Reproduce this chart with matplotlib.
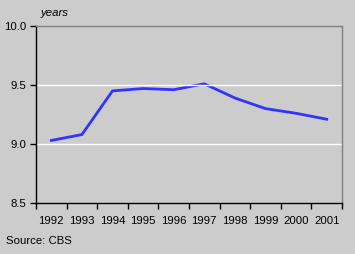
import matplotlib
matplotlib.use('Agg')
import matplotlib.pyplot as plt

years = ['1992', '1993', '1994', '1995', '1996', '1997', '1998', '1999', '2000', '2001']
values = [9.03, 9.08, 9.45, 9.47, 9.46, 9.51, 9.39, 9.30, 9.26, 9.21]

plt.rcParams['font.family'] = ['Liberation Sans', 'DejaVu Sans']
fs = 8.2

fig = plt.figure(figsize=(3.55, 2.54), dpi=100, facecolor='#cccccc')
ax = fig.add_axes([36 / 355, 1 - 203 / 254, 306 / 355, 177 / 254])
ax.set_facecolor('#cccccc')

x = [i + 0.5 for i in range(len(years))]
ax.plot(x, values, color='#3333ff', linewidth=2, solid_joinstyle='miter')

ax.set_xlim(0, len(years))
ax.set_ylim(8.5, 10.0)
ax.set_yticks([8.5, 9.0, 9.5, 10.0])
ax.set_yticklabels(['8.5', '9.0', '9.5', '10.0'])
ax.set_xticks(range(len(years) + 1))
ax.set_xticklabels([])
ax.set_xticks(x, minor=True)
ax.set_xticklabels(years, minor=True)
ax.tick_params(axis='x', which='minor', length=0, pad=9, labelsize=fs)
ax.tick_params(axis='x', which='major', length=4, width=1, color='black')
ax.tick_params(axis='y', length=4, width=1, color='black', labelsize=fs, pad=3)

for yv in [9.0, 9.5]:
    ax.axhline(yv, color='white', linewidth=1)

ax.spines['left'].set_color('black')
ax.spines['bottom'].set_color('black')
ax.spines['top'].set_color('#808080')
ax.spines['right'].set_color('#808080')
for s in ax.spines.values():
    s.set_linewidth(1)

fig.text(41 / 355, 1 - 13 / 254, 'years', fontsize=fs, style='italic', va='center', ha='left')
fig.text(6 / 355, 1 - 241 / 254, 'Source: CBS', fontsize=fs, va='center', ha='left')

fig.savefig('out.png', dpi=100, facecolor=fig.get_facecolor())
